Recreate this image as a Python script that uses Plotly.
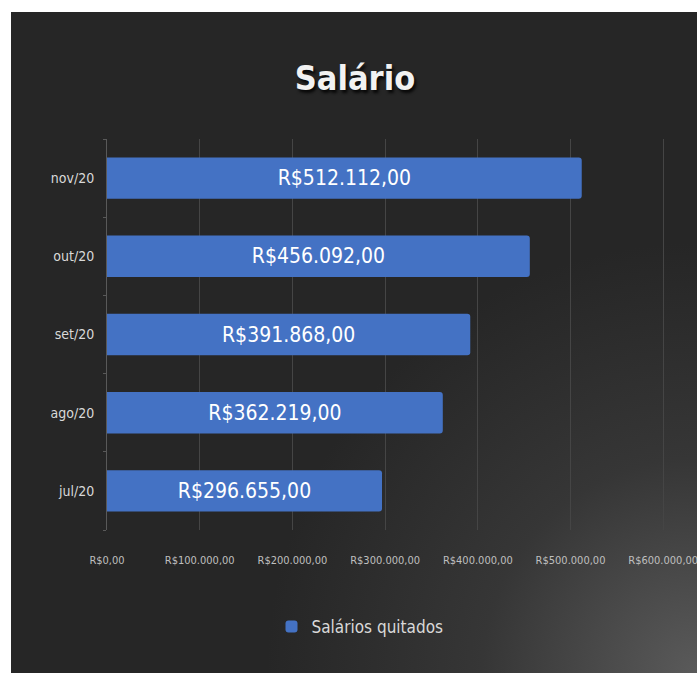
import base64
import plotly.graph_objects as go

# Monthly salary totals paid
months = ["jul/20", "ago/20", "set/20", "out/20", "nov/20"]
salaries = [296655.00, 362219.00, 391868.00, 456092.00, 512112.00]
x_ticks = [0, 100000, 200000, 300000, 400000, 500000, 600000]
series_name = "Salários quitados"
title_text = "Salário"

FONT = "DejaVu Sans Condensed, DejaVu Sans, sans-serif"


def brl(v):
    s = f"{v:,.2f}"
    s = s.replace(",", "X").replace(".", ",").replace("X", ".")
    return "R$" + s


W, H = 697, 673
L, R, T, B = 107, 31, 139, 143
pw, ph = W - L - R, H - T - B

# dark card with a soft light glow in the lower-right corner
card_x0, card_y0 = 11, 12
cw, ch = W - card_x0, H - card_y0
svg = (
    f'<svg xmlns="http://www.w3.org/2000/svg" width="{cw}" height="{ch}" '
    f'viewBox="0 0 {cw} {ch}" preserveAspectRatio="none">'
    '<defs><radialGradient id="g" gradientUnits="userSpaceOnUse" '
    f'cx="{cw}" cy="{ch}" r="430">'
    '<stop offset="0" stop-color="#5a5a5a"/>'
    '<stop offset="0.5" stop-color="#363636"/>'
    '<stop offset="1" stop-color="#262626"/>'
    '</radialGradient></defs>'
    f'<rect width="{cw}" height="{ch}" fill="url(#g)"/></svg>'
)
svg_uri = "data:image/svg+xml;base64," + base64.b64encode(svg.encode()).decode()


def px_x(p):
    return (p - L) / pw


def px_y(p):
    return (H - B - p) / ph


fig = go.Figure()
fig.add_trace(
    go.Bar(
        y=months,
        x=salaries,
        orientation="h",
        name=series_name,
        marker=dict(color="#4472C4", cornerradius=3, line=dict(width=0)),
        text=[brl(v) for v in salaries],
        textposition="inside",
        insidetextanchor="middle",
        textangle=0,
        textfont=dict(family=FONT, size=21, color="#ffffff"),
        cliponaxis=False,
        showlegend=True,
    )
)

fig.update_layout(
    width=W,
    height=H,
    margin=dict(l=L, r=R, t=T, b=B, autoexpand=False),
    paper_bgcolor="#ffffff",
    plot_bgcolor="rgba(0,0,0,0)",
    bargap=0.47,
    title=dict(
        text=f"<b>{title_text}</b>",
        x=px_x(355), xref="paper", xanchor="center",
        y=1 - 78 / H, yref="container", yanchor="middle",
        font=dict(family=FONT, size=34, color="#f2f2f2",
                  shadow="2px 3px 3px rgba(0,0,0,0.8)"),
    ),
    xaxis=dict(
        range=[0, 603000],
        tickvals=x_ticks,
        ticktext=[brl(v) for v in x_ticks],
        showgrid=True,
        gridcolor="#454545",
        gridwidth=1,
        zeroline=False,
        showline=False,
        ticks="",
        ticklabelstandoff=22,
        ticklabeloverflow="allow",
        automargin=False,
        tickfont=dict(family=FONT, size=11, color="#bfbfbf"),
        fixedrange=True,
    ),
    yaxis=dict(
        showgrid=False,
        showline=True,
        linecolor="#595959",
        linewidth=1,
        ticks="outside",
        tickson="boundaries",
        ticklen=3,
        tickcolor="#595959",
        ticklabelstandoff=9,
        automargin=False,
        tickfont=dict(family=FONT, size=14, color="#d9d9d9"),
        fixedrange=True,
    ),
    legend=dict(
        orientation="h",
        x=px_x(360), xanchor="center",
        y=px_y(627), yanchor="middle",
        font=dict(family=FONT, size=17, color="#d9d9d9"),
        bgcolor="rgba(0,0,0,0)",
        itemsizing="constant",
    ),
    images=[
        dict(
            source=svg_uri,
            xref="paper", yref="paper",
            x=px_x(card_x0), y=px_y(card_y0),
            sizex=cw / pw, sizey=ch / ph,
            xanchor="left", yanchor="top",
            sizing="stretch",
            layer="below",
        )
    ],
)

fig.write_html("out.html")
